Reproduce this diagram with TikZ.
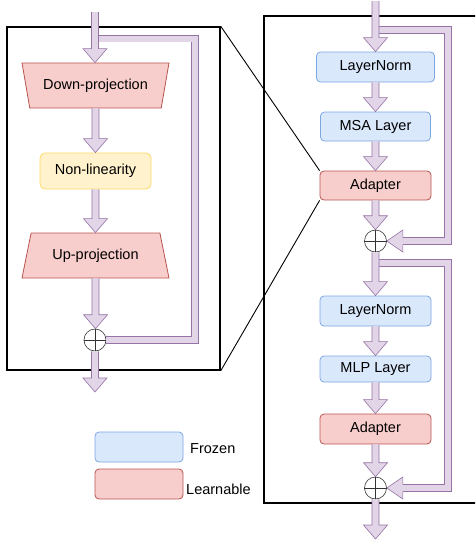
\documentclass[tikz,border=0pt]{standalone}
\usepackage{fontspec}
\setmainfont{Liberation Sans}
\usetikzlibrary{shapes.geometric, calc}

\definecolor{frozenfill}{HTML}{DAE8FC}
\definecolor{frozenline}{HTML}{7EA6E0}
\definecolor{learnfill}{HTML}{F8CECC}
\definecolor{learnline}{HTML}{B85450}
\definecolor{actfill}{HTML}{FFF2CC}
\definecolor{actline}{HTML}{FFD966}
\definecolor{flowfill}{HTML}{E1D5E7}
\definecolor{flowline}{HTML}{9673A6}

% fat arrow pointing down, from #1 to #2
\newcommand{\fatdown}[2]{\draw[flow] let \p1=(#1), \p2=(#2) in (\x1-3.5pt,\y1) -- (\x1-3.5pt,\y2+14pt) -- (\x1-12pt,\y2+14pt) -- (\x1,\y2) -- (\x1+12pt,\y2+14pt) -- (\x1+3.5pt,\y2+14pt) -- (\x1+3.5pt,\y1);}
% arrow head pointing left, from #1 to #2
\newcommand{\fatleft}[2]{\draw[flow] let \p1=(#1), \p2=(#2) in (\x1,\y1+3.5pt) -- (\x1,\y1+11pt) -- (\x2,\y1) -- (\x1,\y1-11pt) -- (\x1,\y1-3.5pt);}

\begin{document}
\begin{tikzpicture}[x=1pt, y=-1pt,
    every node/.style={font=\fontsize{14.5}{17}\selectfont}, % text size
    panel/.style={rectangle, draw=black, line width=1.5pt, inner sep=0pt}, % zoom boxes
    frozen/.style={rectangle, rounded corners=4pt, draw=frozenline, fill=frozenfill, line width=0.8pt, minimum width=111pt, minimum height=30pt}, % frozen layer
    learn/.style={rectangle, rounded corners=4pt, draw=learnline, fill=learnfill, line width=0.8pt, minimum width=111pt, minimum height=30pt}, % learnable layer
    act/.style={rectangle, rounded corners=5pt, draw=actline, fill=actfill, line width=0.8pt, minimum width=111pt, minimum height=36pt}, % activation
    proj/.style={trapezium, trapezium stretches=true, trapezium left angle=72, trapezium right angle=72, draw=learnline, fill=learnfill, line width=0.8pt, minimum width=147pt, minimum height=45pt}, % projections
    sum/.style={circle, draw=black!80, fill=white, line width=0.6pt, minimum size=22pt, inner sep=0pt}, % addition
    flow/.style={draw=flowline, fill=flowfill, line width=0.6pt}, % fat arrows
    skip/.style={draw=flowline, double=flowfill, double distance=6pt, line width=0.6pt} % residual bands
    ]
    \path[use as bounding box, clip] (0,0) rectangle (475,541);

    % zoom boxes
    \node[panel, minimum width=213pt, minimum height=343pt] (lpanel) at (113.5,198.5) {};
    \node[panel, minimum width=230pt, minimum height=487pt] (rpanel) at (379,259.5) {};

    % adapter module
    \coordinate (in1) at (95,12);
    \node[proj, shape border rotate=180] (down) at (95.5,85.5) {Down-projection};
    \node[act] (nonlin) at (95.5,171) {Non-linearity};
    \node[proj] (up) at (95.5,255.5) {Up-projection};
    \node[sum] (sum1) at (95,340) {};
    \coordinate (out1) at (95,392);

    % transformer block
    \coordinate (in2) at (375.5,1);
    \node[frozen, minimum width=118pt] (ln1) at (375.5,67) {LayerNorm};
    \node[frozen, minimum width=110pt, minimum height=29pt] (msa) at (375.5,126.5) {MSA Layer};
    \node[learn, minimum height=29pt] (ad1) at (375.5,185.5) {Adapter};
    \node[sum] (sum2) at (375.5,241) {};
    \node[frozen] (ln2) at (375.5,311) {LayerNorm};
    \node[frozen, minimum height=26pt] (mlp) at (375.5,369) {MLP Layer};
    \node[learn] (ad2) at (375.5,429) {Adapter};
    \node[sum] (sum3) at (375.5,488) {};
    \coordinate (out2) at (375.5,539);

    % legend
    \node[frozen, minimum width=88pt] (kfrozen) at (139,447) {};
    \node[learn, minimum width=88pt] (klearn) at (139,484) {};
    \node[anchor=west, inner sep=0pt] (tfrozen) at (190,449) {Frozen};
    \node[anchor=west, inner sep=0pt] (tlearn) at (186,489) {Learnable};

    % zoom lines
    \draw[line width=0.9pt] (lpanel.north east) -- (ad1.north west);
    \draw[line width=0.9pt] (lpanel.south east) -- (ad1.south west);

    % residual bands
    \coordinate (br0) at (195,38.5);
    \coordinate (br1) at (448,30);
    \coordinate (br2) at (448,263);
    \draw[skip] (in1 |- br0) -- (br0) |- (sum1.east);
    \draw[skip] (in2 |- br1) -- (br1) |- ($(sum2.east)+(16,0)$);
    \draw[skip] (sum2 |- br2) -- (br2) |- ($(sum3.east)+(16,0)$);
    \fatleft{$(sum2.east)+(16,0)$}{sum2.east}
    \fatleft{$(sum3.east)+(16,0)$}{sum3.east}

    % main flow
    \fatdown{in1}{down.north}
    \fatdown{down.south}{nonlin.north}
    \fatdown{nonlin.south}{up.north}
    \fatdown{up.south}{sum1.north}
    \fatdown{sum1.south}{out1}
    \fatdown{in2}{ln1.north}
    \fatdown{ln1.south}{msa.north}
    \fatdown{msa.south}{ad1.north}
    \fatdown{ad1.south}{sum2.north}
    \fatdown{sum2.south}{ln2.north}
    \fatdown{ln2.south}{mlp.north}
    \fatdown{mlp.south}{ad2.north}
    \fatdown{ad2.south}{sum3.north}
    \fatdown{sum3.south}{out2}

    % plus signs
    \foreach \s in {sum1,sum2,sum3}
        \draw[black!80, line width=0.6pt] (\s.north) -- (\s.south) (\s.west) -- (\s.east);
\end{tikzpicture}
\end{document}
